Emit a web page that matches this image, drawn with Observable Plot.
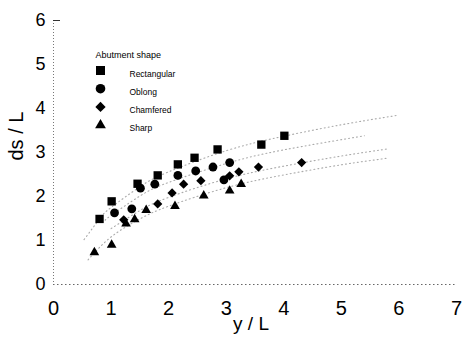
<!DOCTYPE html>
<html>
<head>
<meta charset="utf-8">
<script src="https://cdn.jsdelivr.net/npm/d3@7"></script>
<script src="https://cdn.jsdelivr.net/npm/@observablehq/plot@0.6"></script>
<style>
  body { margin: 0; background: #fff; }
  #chart svg { display: block; }
</style>
</head>
<body>
<div id="chart"></div>
<script>
// Abutment shapes (legend order)
const shapes = ["Rectangular", "Oblong", "Chamfered", "Sharp"];
const symbolNames = ["square", "circle", "diamond", "triangle"];
const symbolR = [4.7, 4.4, 3.7, 3.6];

// Observed points: y/L and ds/L for each shape
const rectX = [0.80, 1.01, 1.46, 1.81, 2.16, 2.45, 2.85, 3.61, 4.01];
const rectY = [1.49, 1.89, 2.29, 2.48, 2.73, 2.88, 3.07, 3.18, 3.38];
const oblongX = [1.06, 1.36, 1.51, 1.76, 2.16, 2.47, 2.77, 2.96, 3.06];
const oblongY = [1.63, 1.72, 2.19, 2.28, 2.48, 2.58, 2.67, 2.38, 2.77];
const chamfX = [1.22, 1.81, 2.06, 2.26, 2.56, 3.06, 3.22, 3.56, 4.31];
const chamfY = [1.47, 1.83, 2.08, 2.28, 2.36, 2.47, 2.56, 2.67, 2.77];
const sharpX = [0.71, 1.01, 1.26, 1.41, 1.61, 2.11, 2.61, 3.06, 3.26];
const sharpY = [0.73, 0.90, 1.38, 1.48, 1.69, 1.78, 2.02, 2.13, 2.28];

// Faint dotted trend curves
const fitRectX = [0.53, 0.8, 1, 1.5, 2, 3, 4, 5, 5.95];
const fitRectY = [1.02, 1.49, 1.75, 2.22, 2.56, 3.04, 3.37, 3.63, 3.84];
const fitOblongX = [0.9, 1, 1.5, 2, 3, 4, 5.4];
const fitOblongY = [1.46, 1.57, 2.01, 2.32, 2.75, 3.06, 3.38];
const fitChamfX = [1.0, 1.5, 2, 3, 4, 5, 5.8];
const fitChamfY = [1.27, 1.68, 1.98, 2.40, 2.69, 2.92, 3.08];
const fitSharpX = [0.6, 1, 1.5, 2, 3, 4, 5, 5.8];
const fitSharpY = [0.56, 1.08, 1.49, 1.78, 2.20, 2.49, 2.72, 2.87];

// Axis ticks
const xTicks = [0, 1, 2, 3, 4, 5, 6, 7];
const yTicks = [0, 1, 2, 3, 4, 5, 6];

// square-ish diamond (rotated square)
const rotatedSquare = {
  draw(context, size) {
    const r = Math.sqrt(size / 2);
    context.moveTo(0, -r);
    context.lineTo(r, 0);
    context.lineTo(0, r);
    context.lineTo(-r, 0);
    context.closePath();
  }
};
const symbolFor = {square: "square", circle: "circle", diamond: rotatedSquare, triangle: "triangle"};

const series = [
  [rectX, rectY], [oblongX, oblongY], [chamfX, chamfY], [sharpX, sharpY]
];
const fits = [
  [fitRectX, fitRectY], [fitOblongX, fitOblongY], [fitChamfX, fitChamfY], [fitSharpX, fitSharpY]
];

const points = [];
series.forEach(([xs, ys], i) => xs.forEach((x, j) => points.push({shape: shapes[i], x, y: ys[j]})));
const fitRows = [];
fits.forEach(([xs, ys], i) => xs.forEach((x, j) => fitRows.push({shape: shapes[i], x, y: ys[j]})));

const marks = [
  Plot.ruleY([0], {stroke: "#666", strokeDasharray: "1.5,2.5", strokeWidth: 1.2}),
  Plot.ruleX([0], {stroke: "#777", strokeDasharray: "1,2", strokeWidth: 1}),
  Plot.axisX({ticks: xTicks, tickSize: 0, tickPadding: 16, fontSize: 20, fill: "#000", label: null, tickFormat: d3.format("d")}),
  Plot.axisY({ticks: yTicks, tickSize: 0, tickPadding: 8, fontSize: 18, fill: "#000", label: null, tickFormat: d3.format("d")}),
  Plot.axisY({ticks: [6], tickSize: -7, text: null, label: null, stroke: "#333"}),
  Plot.line(fitRows, {x: "x", y: "y", z: "shape", curve: "natural", stroke: "#aaa", strokeDasharray: "1,3", strokeWidth: 1.1}),
  Plot.text(["ds / L"], {frameAnchor: "left", dx: -37, dy: 8, rotate: -90, fontSize: 20, fill: "#000"}),
  Plot.text(["y / L"], {frameAnchor: "bottom", dx: -4, dy: 45, fontSize: 19, fill: "#000"}),
  Plot.text(["Abutment shape"], {frameAnchor: "top-left", dx: 42, dy: 31, textAnchor: "start", fontSize: 9, fill: "#000"})
];
shapes.forEach((s, i) => {
  const sym = symbolFor[symbolNames[i]];
  marks.push(Plot.dot(points.filter(d => d.shape === s), {x: "x", y: "y", symbol: sym, fill: "#000", stroke: "none", r: symbolR[i]}));
  marks.push(Plot.dot([s], {frameAnchor: "top-left", dx: 47, dy: 50 + i * 18.2, symbol: sym, fill: "#000", stroke: "none", r: symbolR[i] + 0.4}));
  marks.push(Plot.text([s], {frameAnchor: "top-left", dx: 76, dy: 50 + i * 18.2, textAnchor: "start", fontSize: 8.5, fill: "#000"}));
});

const chart = Plot.plot({
  width: 464,
  height: 338,
  marginLeft: 53,
  marginRight: 8,
  marginTop: 20,
  marginBottom: 54,
  style: {fontFamily: "'Liberation Sans', Arial, sans-serif", color: "#000", background: "#fff"},
  x: {domain: [0, 7]},
  y: {domain: [0, 6]},
  marks
});
document.getElementById("chart").appendChild(chart);
</script>
</body>
</html>
